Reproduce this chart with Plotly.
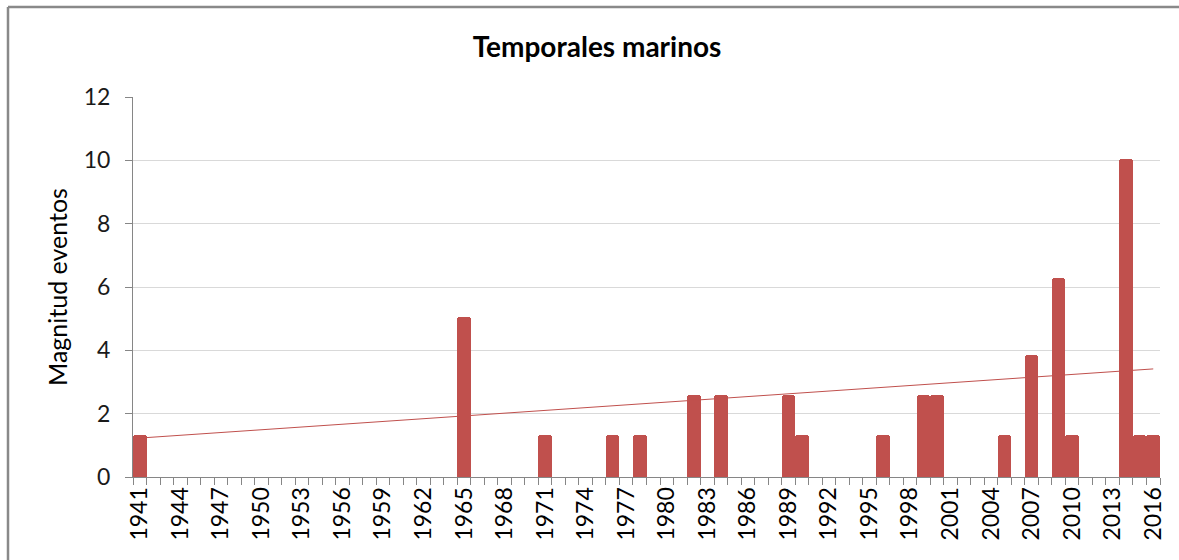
import numpy as np
import plotly.graph_objects as go

# ---- data ----
years = list(range(1941, 2017))
event_years = [1941, 1965, 1971, 1976, 1978, 1982, 1984, 1989, 1990, 1996,
               1999, 2000, 2005, 2007, 2009, 2010, 2014, 2015, 2016]
event_values = [1.33, 5.05, 1.33, 1.33, 1.33, 2.6, 2.6, 2.6, 1.33, 1.33,
                2.6, 2.6, 1.33, 3.85, 6.3, 1.33, 10.05, 1.33, 1.33]
tick_years = list(range(1941, 2017, 3))
title_text = "Temporales marinos"
y_title = "Magnitud eventos"

value_by_year = dict(zip(event_years, event_values))
magnitudes = [value_by_year.get(y, 0) for y in years]

# linear trend over the years with events
slope, intercept = np.polyfit(event_years, event_values, 1)
trend_x = [years[0], years[-1]]
trend_y = [slope * x + intercept for x in trend_x]

BAR = "#C0504D"
FONT = "Lato"

fig = go.Figure()
fig.add_trace(go.Bar(x=years, y=magnitudes, marker=dict(color=BAR, line=dict(width=0)),
                     showlegend=False))
fig.add_trace(go.Scatter(x=trend_x, y=trend_y, mode="lines",
                         line=dict(color="#C0504D", width=1), showlegend=False))

L, R, T, B = 133, 19, 97, 83
W, H = 1179, 560
pw, ph = W - L - R, H - T - B

def px(xp):
    return (xp - L) / pw

def py(yp):
    return (H - B - yp) / ph

border = dict(color="#898989", width=2.5)

fig.update_layout(
    width=W, height=H,
    margin=dict(l=L, r=R, t=T, b=B, autoexpand=False),
    paper_bgcolor="white", plot_bgcolor="white",
    bargap=0.0, barcornerradius=3,
    font=dict(family=FONT, color="#1a1a1a"),
    title=dict(text=f"<b>{title_text}</b>", x=597 / W, xref="container", xanchor="center",
               y=1 - 47 / H, yref="container", yanchor="middle",
               font=dict(size=28, family=FONT, color="#000000")),
    xaxis=dict(
        range=[1940.5, 2016.5], tickmode="array", tickvals=tick_years,
        ticktext=[str(v) for v in tick_years], tickangle=-90,
        ticks="", showgrid=False, zeroline=False,
        showline=True, linecolor="#868686", linewidth=1,
        tickfont=dict(size=23, family=FONT, color="#000000"),
        minor=dict(tick0=1940.5, dtick=1, ticks="outside", ticklen=7,
                   tickcolor="#868686", tickwidth=1, showgrid=False),
    ),
    yaxis=dict(
        range=[0, 12], dtick=2, tick0=0, ticks="outside", ticklen=7,
        tickcolor="#868686", showgrid=True, gridcolor="#D9D9D9", gridwidth=1,
        zeroline=False, showline=True, linecolor="#868686", linewidth=1,
        ticklabelstandoff=10,
        tickfont=dict(size=23, family=FONT, color="#1a1a1a"),
        title=dict(text=y_title, font=dict(size=25, family=FONT, color="#000000"), standoff=8),
    ),
    shapes=[
        dict(type="line", xref="paper", yref="paper",
             x0=px(8), x1=px(W), y0=py(7), y1=py(7), line=border, layer="below"),
        dict(type="line", xref="paper", yref="paper",
             x0=px(8), x1=px(8), y0=py(7), y1=py(H), line=border, layer="below"),
    ],
)

fig.write_html("out.html", config={"displayModeBar": False},
               post_script="document.body.style.margin='0';document.body.style.padding='0';"
                           "document.body.style.overflow='hidden';"
                           "document.documentElement.style.overflow='hidden';")
